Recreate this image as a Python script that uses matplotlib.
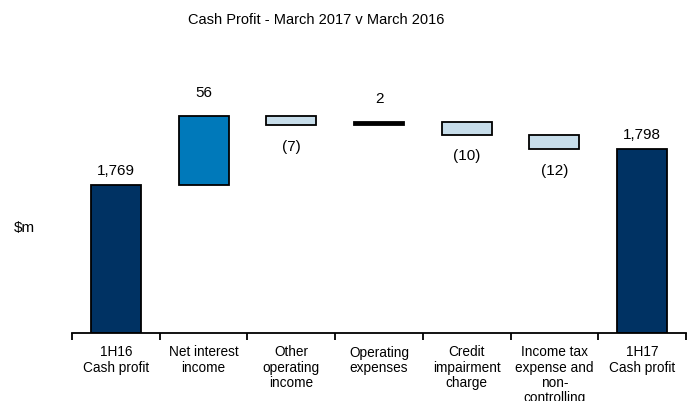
import matplotlib.pyplot as plt
import numpy as np

plt.rcParams['font.family'] = ['Liberation Sans', 'DejaVu Sans']

# waterfall data ($m)
categories = ['1H16\nCash profit', 'Net interest\nincome', 'Other\noperating\nincome',
              'Operating\nexpenses', 'Credit\nimpairment\ncharge',
              'Income tax\nexpense and\nnon-\ncontrolling', '1H17\nCash profit']
changes = [1769, 56, -7, 2, -10, -12, 1798]
labels = ['1,769', '56', '(7)', '2', '(10)', '(12)', '1,798']
kinds = ['total', 'up', 'down', 'up', 'down', 'down', 'total']

base_val = 1650
colors = {'total': '#003263', 'up': '#0079BA', 'down': '#C7DDEA'}

fig = plt.figure(figsize=(6.92, 4.01), dpi=100)
ax = fig.add_axes([72/692, 68/401, 614/692, 278/401])

x = np.arange(len(categories))
running = 0
for i, (v, k) in enumerate(zip(changes, kinds)):
    if k == 'total':
        bottom, height = base_val, v - base_val
        running = v
    else:
        start = running
        running = running + v
        bottom, height = min(start, running), abs(v)
    if k == 'up' and abs(v) <= 2:
        fc = 'black'
    else:
        fc = colors[k]
    ax.bar(i, height, bottom=bottom, width=0.57, color=fc, edgecolor='black', linewidth=1.3)
    top = bottom + height
    if k == 'down':
        ax.text(i, bottom - 12, labels[i], ha='center', va='top', fontsize=11)
    elif k == 'up':
        ax.text(i, top + 13, labels[i], ha='center', va='bottom', fontsize=11)
    else:
        ax.text(i, top + 6, labels[i], ha='center', va='bottom', fontsize=11)

ax.set_xlim(-0.5, len(categories) - 0.5)
ax.set_ylim(base_val, base_val + 278 / 1.24)
for s in ['top', 'right', 'left']:
    ax.spines[s].set_visible(False)
ax.spines['bottom'].set_linewidth(1.3)
ax.set_yticks([])
ax.set_xticks(x)
ax.set_xticklabels(categories, fontsize=9.8, linespacing=1.12)
ax.tick_params(axis='x', which='major', length=0, pad=9)
ax.set_xticks(np.arange(-0.5, len(categories)), minor=True)
ax.tick_params(axis='x', which='minor', length=5, width=1.3, direction='out')

fig.text(14/692, 1 - 228/401, '$m', fontsize=11, va='center', ha='left')
fig.text(316/692, 1 - 20/401, 'Cash Profit - March 2017 v March 2016', fontsize=10.5,
         ha='center', va='center')

fig.savefig('out.png', dpi=100)
